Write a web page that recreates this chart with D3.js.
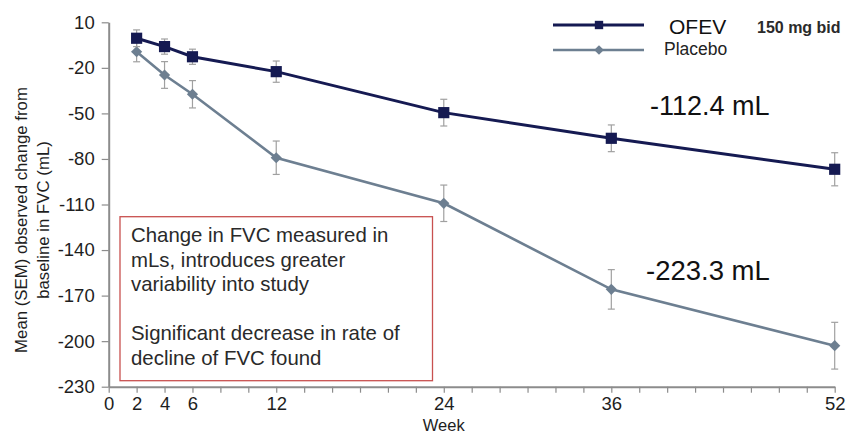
<html><head>
    <meta charset="UTF-8">
    <title>OFEV vs Placebo: change in FVC</title>
    <script src="https://cdnjs.cloudflare.com/ajax/libs/d3/7.8.5/d3.min.js"></script>
    <style>
        body {
            margin: 0;
            padding: 0;
            background: #ffffff;
            font-family: "Liberation Sans", Arial, sans-serif;
        }
        svg text {
            font-family: "Liberation Sans", Arial, sans-serif;
        }
    </style>
</head>
<body>
    <svg id="chart" width="848" height="435"></svg>

    <script>
        // data (mL change from baseline, SEM)
        var weeks = [2, 4, 6, 12, 24, 36, 52];
        var ofevMean = [-0.5, -6, -12.7, -22.5, -49.5, -66.4, -86.8];
        var ofevSem = [5.5, 5, 5, 7, 8.8, 8.8, 10.9];
        var placeboMean = [-9.4, -24.7, -37.4, -79.2, -109.2, -165.9, -203];
        var placeboSem = [6.6, 8.8, 9, 11, 12, 13, 15.4];

        var yTicks = [10, -20, -50, -80, -110, -140, -170, -200, -230];
        var xTickLabels = [0, 2, 4, 6, 12, 24, 36, 52];
        var xMinorTicks = d3.range(0, 53, 2);

        var boxLines = [
            "Change in FVC measured in",
            "mLs, introduces greater",
            "variability into study",
            "",
            "Significant decrease in rate of",
            "decline of FVC found"
        ];

        var navy = "#151a52";
        var slate = "#6d7f91";
        var axisGray = "#8c8c8c";
        var errGray = "#a0a0a0";

        var svg = d3.select("#chart");

        var x = d3.scaleLinear().domain([0, 52]).range([108.7, 834.7]);
        var y = d3.scaleLinear().domain([-230, 10]).range([386.7, 22.3]);

        // x axis: minor ticks every 2 weeks, labels only on some
        var xAxis = svg.append("g")
            .attr("transform", "translate(0," + y(-230) + ")")
            .call(d3.axisBottom(x)
                .tickValues(xMinorTicks)
                .tickSize(6)
                .tickSizeOuter(0)
                .tickFormat(function(d) { return xTickLabels.indexOf(d) >= 0 ? String(d) : ""; }));
        xAxis.select(".domain").attr("stroke", axisGray).attr("stroke-width", 2);
        xAxis.selectAll(".tick line").attr("stroke", axisGray).attr("stroke-width", 1.2);
        xAxis.selectAll(".tick text")
            .attr("fill", "#1e1e1e")
            .attr("font-size", 18.5)
            .attr("dy", "0.78em");

        // y axis (plain hyphen minus like the source)
        var yAxis = svg.append("g")
            .attr("transform", "translate(" + x(0) + ",0)")
            .call(d3.axisLeft(y)
                .tickValues(yTicks)
                .tickSize(7)
                .tickSizeOuter(0)
                .tickPadding(7)
                .tickFormat(function(d) { return String(d); }));
        yAxis.select(".domain").attr("stroke", axisGray).attr("stroke-width", 2);
        yAxis.selectAll(".tick line").attr("stroke", axisGray).attr("stroke-width", 1.2);
        yAxis.selectAll(".tick text")
            .attr("fill", "#1e1e1e")
            .attr("font-size", 18.5);

        // axis titles
        svg.append("text")
            .attr("x", x(24))
            .attr("y", 431)
            .attr("text-anchor", "middle")
            .attr("font-size", 16.5)
            .attr("fill", "#1e1e1e")
            .text("Week");

        var yTitle = svg.append("text")
            .attr("transform", "translate(27,220) rotate(-90)")
            .attr("text-anchor", "middle")
            .attr("font-size", 16.8)
            .attr("fill", "#1e1e1e");
        yTitle.append("tspan").attr("x", 0).attr("y", 0).text("Mean (SEM) observed change from");
        yTitle.append("tspan").attr("x", 0).attr("y", 22).text("baseline in FVC (mL)");

        // text box
        svg.append("rect")
            .attr("x", 120)
            .attr("y", 216.7)
            .attr("width", 312.5)
            .attr("height", 164)
            .attr("fill", "#ffffff")
            .attr("stroke", "#c8504f")
            .attr("stroke-width", 1.3);

        svg.append("g").selectAll("text")
            .data(boxLines)
            .enter().append("text")
            .attr("x", 131)
            .attr("y", function(d, i) { return 242 + i * 24.6; })
            .attr("font-size", 20.4)
            .attr("fill", "#2a2a2a")
            .text(function(d) { return d; });

        function drawSeries(means, sems, color, lineWidth, shape, size) {
            var pts = weeks.map(function(w, i) { return {w: w, m: means[i], s: sems[i]}; });
            var g = svg.append("g");

            // error bars
            var eb = g.selectAll("g.err").data(pts).enter().append("g").attr("class", "err");
            eb.append("line")
                .attr("x1", function(d) { return x(d.w); })
                .attr("x2", function(d) { return x(d.w); })
                .attr("y1", function(d) { return y(d.m + d.s); })
                .attr("y2", function(d) { return y(d.m - d.s); })
                .attr("stroke", errGray).attr("stroke-width", 1.2);
            [1, -1].forEach(function(sign) {
                eb.append("line")
                    .attr("x1", function(d) { return x(d.w) - 3.5; })
                    .attr("x2", function(d) { return x(d.w) + 3.5; })
                    .attr("y1", function(d) { return y(d.m + sign * d.s); })
                    .attr("y2", function(d) { return y(d.m + sign * d.s); })
                    .attr("stroke", errGray).attr("stroke-width", 1.2);
            });

            g.append("path")
                .datum(pts)
                .attr("fill", "none")
                .attr("stroke", color)
                .attr("stroke-width", lineWidth)
                .attr("d", d3.line().x(function(d) { return x(d.w); }).y(function(d) { return y(d.m); }));

            g.selectAll("path.mark").data(pts).enter().append("path")
                .attr("class", "mark")
                .attr("transform", function(d) { return "translate(" + x(d.w) + "," + y(d.m) + ")"; })
                .attr("d", d3.symbol().type(shape).size(size))
                .attr("fill", color);
        }

        drawSeries(placeboMean, placeboSem, slate, 2.6, d3.symbolDiamond2, 80);
        drawSeries(ofevMean, ofevSem, navy, 3, d3.symbolSquare, 125);

        // legend
        var legend = [
            {name: "OFEV", color: navy, shape: d3.symbolSquare, size: 70, w: 3, y: 25},
            {name: "Placebo", color: slate, shape: d3.symbolDiamond2, size: 60, w: 2.4, y: 50}
        ];
        var lg = svg.append("g").selectAll("g").data(legend).enter().append("g");
        lg.append("line")
            .attr("x1", 553).attr("x2", 644)
            .attr("y1", function(d) { return d.y; }).attr("y2", function(d) { return d.y; })
            .attr("stroke", function(d) { return d.color; })
            .attr("stroke-width", function(d) { return d.w; });
        lg.append("path")
            .attr("transform", function(d) { return "translate(599," + d.y + ")"; })
            .attr("d", function(d) { return d3.symbol().type(d.shape).size(d.size)(); })
            .attr("fill", function(d) { return d.color; });

        svg.append("text").attr("x", 669).attr("y", 34)
            .attr("font-size", 21).attr("fill", "#111").text("OFEV");
        svg.append("text").attr("x", 757).attr("y", 33)
            .attr("font-size", 16).attr("font-weight", "bold").attr("fill", "#2a2a2a").text("150 mg bid");
        svg.append("text").attr("x", 664).attr("y", 55)
            .attr("font-size", 17.5).attr("fill", "#222").text("Placebo");

        // difference labels
        svg.append("text").attr("x", 650).attr("y", 115)
            .attr("font-size", 27).attr("fill", "#111").text("-112.4 mL");
        svg.append("text").attr("x", 646).attr("y", 280)
            .attr("font-size", 27.5).attr("fill", "#111").text("-223.3 mL");
    </script>
</body>
</html>
